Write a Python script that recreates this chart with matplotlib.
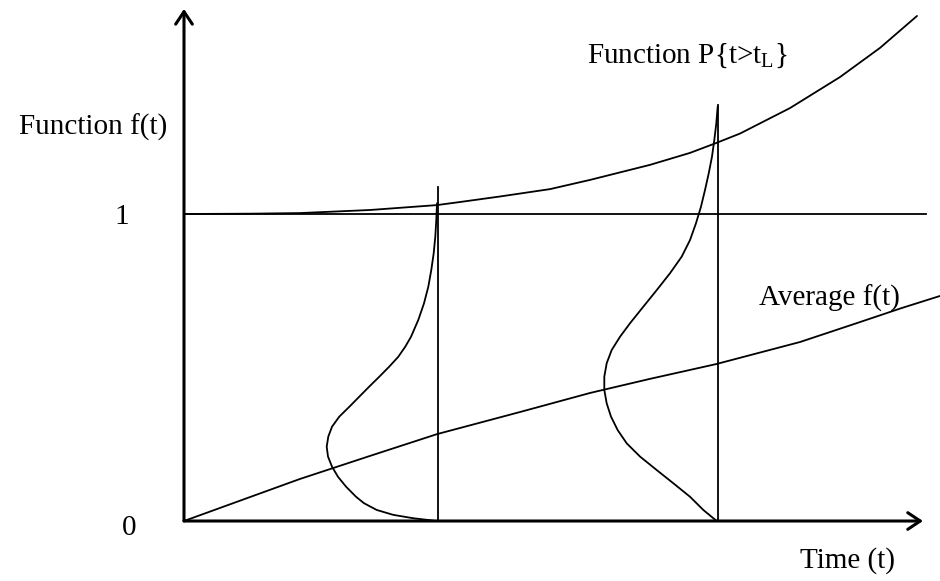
import matplotlib
matplotlib.use("Agg")
import matplotlib.pyplot as plt

plt.rcParams['font.family'] = ['Liberation Serif', 'DejaVu Serif']
plt.rcParams['mathtext.fontset'] = 'custom'
plt.rcParams['mathtext.rm'] = 'Liberation Serif'
plt.rcParams['mathtext.it'] = 'Liberation Serif:italic'

# ---- data (t = time, f = function value) ----
p_t = [0, 0.66, 1.16, 1.86, 2.53, 2.76, 3.16, 3.66, 4.06, 4.66, 5.06, 5.32, 5.56,
       6.06, 6.56, 6.96, 7.33]
p_f = [1.0, 1.001, 1.003, 1.013, 1.029, 1.039, 1.057, 1.081, 1.111, 1.160, 1.199,
       1.231, 1.262, 1.345, 1.446, 1.541, 1.645]

avg_t = [0, 0.66, 1.16, 1.86, 2.53, 3.36, 4.06, 4.66, 5.32, 6.16, 6.76, 7.18, 7.56]
avg_f = [0, 0.078, 0.137, 0.212, 0.283, 0.355, 0.417, 0.463, 0.511, 0.583, 0.648,
         0.694, 0.733]

d1_t = [2.53, 2.523, 2.513, 2.497, 2.473, 2.443, 2.40, 2.343, 2.27, 2.213, 2.143,
        2.053, 1.953, 1.853, 1.753, 1.653, 1.553, 1.48, 1.443, 1.427, 1.44, 1.48,
        1.54, 1.62, 1.72, 1.80, 1.927, 2.093, 2.293, 2.53]
d1_f = [1.035, 0.980, 0.926, 0.872, 0.818, 0.763, 0.709, 0.655, 0.600, 0.568, 0.535,
        0.503, 0.470, 0.438, 0.405, 0.372, 0.340, 0.307, 0.275, 0.242, 0.210, 0.177,
        0.144, 0.112, 0.079, 0.058, 0.036, 0.020, 0.009, 0.0]

d2_t = [5.337, 5.323, 5.303, 5.28, 5.247, 5.21, 5.17, 5.12, 5.06, 4.977, 4.86, 4.727,
        4.593, 4.46, 4.36, 4.277, 4.227, 4.203, 4.203, 4.227, 4.27, 4.337, 4.427,
        4.56, 4.727, 4.893, 5.06, 5.193, 5.327]
d2_f = [1.350, 1.295, 1.241, 1.187, 1.132, 1.078, 1.024, 0.970, 0.915, 0.861, 0.807,
        0.752, 0.698, 0.644, 0.600, 0.557, 0.514, 0.470, 0.427, 0.383, 0.340, 0.296,
        0.253, 0.210, 0.166, 0.123, 0.079, 0.036, 0.0]

v1_t, v1_top = 2.537, 1.088
v2_t, v2_top = 5.337, 1.355

hline_f = 1.0
hline_end = 7.42
x_arrow_end = 7.39
y_arrow_end = 1.668

fig = plt.figure(figsize=(9.4, 5.81), dpi=100)
ax = fig.add_axes([0, 0, 1, 1])
ax.set_xlim(-1.84, 7.56)
ax.set_ylim(-0.1954, 1.697)
ax.axis('off')

lw = 1.3
for xs, ys in [(p_t, p_f), (avg_t, avg_f), (d1_t, d1_f), (d2_t, d2_f)]:
    ax.plot(xs, ys, color='black', lw=lw, solid_joinstyle='round', solid_capstyle='round')
ax.plot([v1_t, v1_t], [0, v1_top], color='black', lw=lw)
ax.plot([v2_t, v2_t], [0, v2_top], color='black', lw=lw)
ax.plot([0, hline_end], [hline_f, hline_f], color='black', lw=lw)

arrow = dict(arrowstyle='->,head_length=0.45,head_width=0.3', lw=2.2, color='black',
             shrinkA=0, shrinkB=0, mutation_scale=20)
ax.annotate('', xy=(x_arrow_end, 0), xytext=(0, 0), arrowprops=arrow)
ax.annotate('', xy=(0, y_arrow_end), xytext=(0, 0), arrowprops=arrow)

fs = 21
ax.text(-0.91, 1.283, 'Function f(t)', fontsize=fs, ha='center', va='center')
ax.text(-0.62, 0.99, '1', fontsize=fs, ha='center', va='center')
ax.text(-0.55, -0.023, '0', fontsize=fs, ha='center', va='center')
ax.text(4.03, 1.492, r'Function P{t>t$_{\mathrm{L}}$}', fontsize=fs, ha='left', va='baseline')
ax.text(7.16, 0.700, 'Average f(t)', fontsize=fs, ha='right', va='baseline')
ax.text(7.11, -0.130, 'Time (t)', fontsize=fs, ha='right', va='center')

fig.savefig('out.png', dpi=100)
